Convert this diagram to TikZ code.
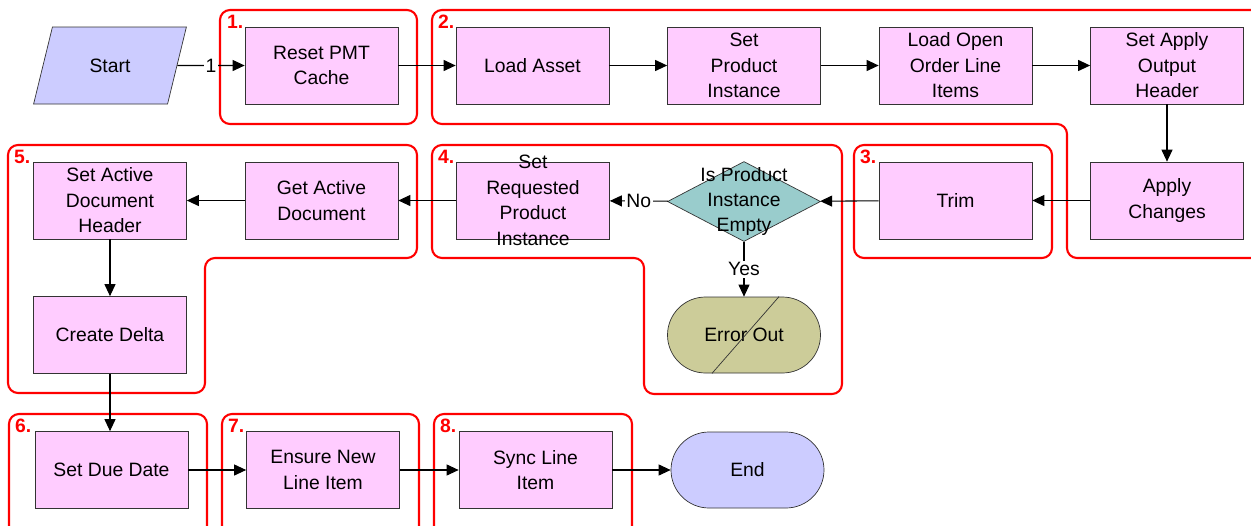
\documentclass[tikz,border=0pt]{standalone}
\usepackage{fontspec}
\setmainfont{Liberation Sans}
\usetikzlibrary{shapes.geometric,arrows.meta}
\definecolor{boxfill}{HTML}{FFCCFF}
\definecolor{termfill}{HTML}{CCCCFF}
\definecolor{decfill}{HTML}{99CCCC}
\definecolor{errfill}{HTML}{CCCC99}
\definecolor{grpred}{HTML}{FF0000}

\begin{document}
\begin{tikzpicture}[font=\fontsize{11}{14.5}\selectfont,>={Triangle[length=2.4mm,width=2.2mm]},
  stp/.style={rectangle,draw=black!80,fill=boxfill,minimum width=3.06cm,minimum height=1.54cm,inner sep=1pt,align=center},
  term/.style={rectangle,rounded corners=7.6mm,draw=black!80,fill=termfill,minimum width=3.06cm,minimum height=1.52cm,inner sep=1pt},
  io/.style={trapezium,trapezium left angle=64,trapezium right angle=116,trapezium stretches=true,draw=black!80,fill=termfill,minimum width=3.06cm,minimum height=1.54cm,inner sep=0pt},
  dec/.style={diamond,draw=black!80,fill=decfill,minimum width=3.06cm,minimum height=1.6cm,inner sep=0pt},
  grp/.style={draw=grpred,line width=1.2pt,rounded corners=2mm},
  num/.style={text=grpred,font=\fontsize{11}{12}\selectfont\bfseries,anchor=north west,inner sep=1pt},
  lbl/.style={fill=white,inner sep=1pt,midway},
  flow/.style={->,line width=0.6pt}]
\useasboundingbox (0,0) rectangle (25.02,-10.5);

% ---- groups
\draw[grp] (4.4,-0.2) rectangle (8.34,-2.48);
\draw[grp] (8.64,-0.2) -- (25.6,-0.2) -- (25.6,-5.16) -- (21.34,-5.16) -- (21.34,-2.48) -- (8.64,-2.48) -- cycle;
\draw[grp] (17.08,-2.9) rectangle (21.04,-5.16);
\draw[grp] (8.64,-2.9) -- (16.84,-2.9) -- (16.84,-7.88) -- (12.88,-7.88) -- (12.88,-5.16) -- (8.64,-5.16) -- cycle;
\draw[grp] (0.16,-2.9) -- (8.34,-2.9) -- (8.34,-5.16) -- (4.1,-5.16) -- (4.1,-7.86) -- (0.16,-7.86) -- cycle;
\draw[grp] (0.18,-11) -- (0.18,-8.28) -- (4.14,-8.28) -- (4.14,-11);
\draw[grp] (4.44,-11) -- (4.44,-8.28) -- (8.38,-8.28) -- (8.38,-11);
\draw[grp] (8.68,-11) -- (8.68,-8.28) -- (12.64,-8.28) -- (12.64,-11);
\node[num] (n1) at (4.5,-0.26) {1.};
\node[num] (n2) at (8.72,-0.26) {2.};
\node[num] (n3) at (17.16,-2.96) {3.};
\node[num] (n4) at (8.72,-2.96) {4.};
\node[num] (n5) at (0.24,-2.96) {5.};
\node[num] (n6) at (0.26,-8.34) {6.};
\node[num] (n7) at (4.52,-8.34) {7.};
\node[num] (n8) at (8.76,-8.34) {8.};

% ---- row 1
\node[io] (start) at (2.2,-1.31) {Start};
\node[stp] (reset) at (6.43,-1.31) {Reset PMT\\Cache};
\node[stp] (load) at (10.65,-1.31) {Load Asset};
\node[stp] (setprod) at (14.88,-1.31) {Set\\Product\\Instance};
\node[stp] (loadopen) at (19.11,-1.31) {Load Open\\Order Line\\Items};
\node[stp] (setapply) at (23.34,-1.31) {Set Apply\\Output\\Header};

% ---- row 2
\node[stp] (apply) at (23.34,-4.01) {Apply\\Changes};
\node[stp] (trim) at (19.11,-4.01) {Trim};
\node[dec] (empty) at (14.88,-4.03) {};
\node[align=center,inner sep=0pt] (emptytxt) at (empty.center) {Is Product\\Instance\\Empty};
\node[stp] (setreq) at (10.66,-4.01) {};
\node[align=center,inner sep=0pt] (setreqtxt) at (setreq.center) {Set\\Requested\\Product\\Instance};
\node[stp] (getdoc) at (6.43,-4.01) {Get Active\\Document};
\node[stp] (setdoc) at (2.2,-4.01) {Set Active\\Document\\Header};

% ---- row 3
\node[term,fill=errfill] (err) at (14.88,-6.7) {Error Out};
\draw[black!80] ([xshift=7mm]err.north) -- ([xshift=-6.4mm]err.south);
\node[stp] (delta) at (2.2,-6.7) {Create Delta};

% ---- row 4
\node[stp] (due) at (2.23,-9.4) {Set Due Date};
\node[stp] (ensure) at (6.46,-9.4) {Ensure New\\Line Item};
\node[stp] (sync) at (10.71,-9.4) {Sync Line\\Item};
\node[term] (end) at (14.95,-9.4) {End};

% ---- flow
\draw[flow] (start) -- node[lbl] {1} (reset);
\draw[flow] (reset) -- (load);
\draw[flow] (load) -- (setprod);
\draw[flow] (setprod) -- (loadopen);
\draw[flow] (loadopen) -- (setapply);
\draw[flow] (setapply) -- (apply);
\draw[flow] (apply) -- (trim);
\draw[flow] (trim) -- (empty);
\draw[flow] (empty) -- node[lbl] {No} (setreq);
\draw[flow] (empty) -- node[lbl] {Yes} (err);
\draw[flow] (setreq) -- (getdoc);
\draw[flow] (getdoc) -- (setdoc);
\draw[flow] (setdoc) -- (delta);
\draw[flow] (delta) -- (delta |- due.north);
\draw[flow] (due) -- (ensure);
\draw[flow] (ensure) -- (sync);
\draw[flow] (sync) -- (end);
\end{tikzpicture}
\end{document}
